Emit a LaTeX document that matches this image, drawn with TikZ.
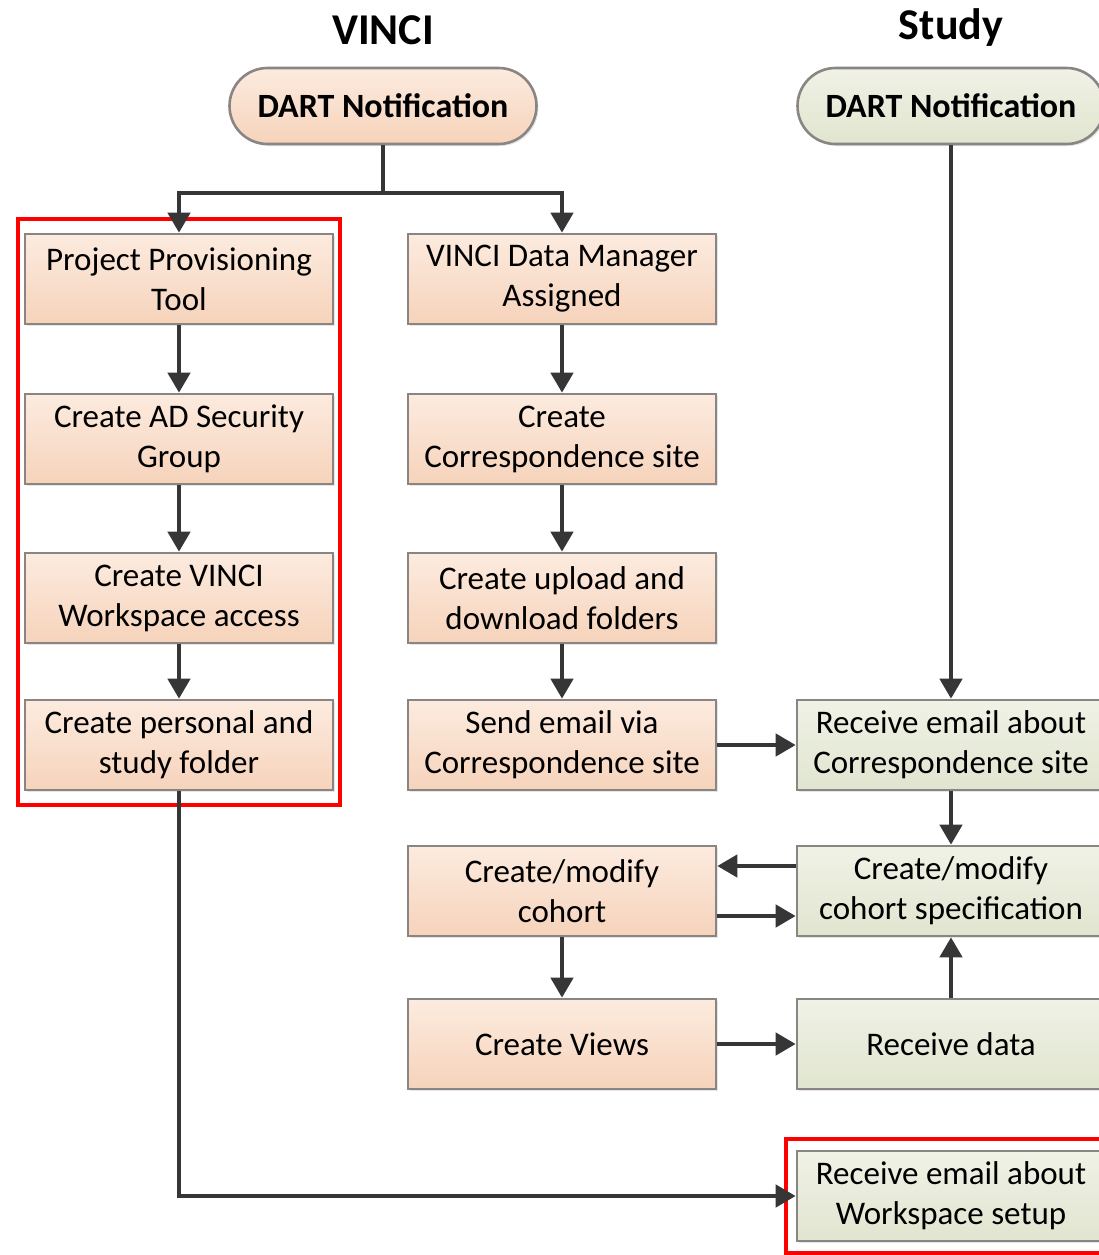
\documentclass[tikz,border=0pt]{standalone}
\usepackage{fontspec}
\setmainfont{Carlito}
\usetikzlibrary{arrows.meta,fit,shadows}

\definecolor{peachtop}{HTML}{FCEBDF}
\definecolor{peachbot}{HTML}{F6D3BB}
\definecolor{greentop}{HTML}{F0F2E6}
\definecolor{greenbot}{HTML}{E0E5CF}
\definecolor{boxline}{HTML}{8A8582}
\definecolor{arrowgray}{HTML}{363636}

\tikzset{
  stepbox/.style={rectangle, draw=boxline, line width=1.3pt, minimum width=154pt,
    minimum height=45pt, align=center, inner sep=2pt,
    font=\fontsize{16.5}{20}\selectfont,
    drop shadow={opacity=0.2, shadow xshift=1pt, shadow yshift=-1pt}},
  vincibox/.style={stepbox, top color=peachtop, bottom color=peachbot},
  studybox/.style={stepbox, top color=greentop, bottom color=greenbot},
  notifbox/.style={rectangle, rounded corners=19pt, draw=boxline, line width=1.3pt,
    minimum width=153.5pt, minimum height=38pt, font=\bfseries\fontsize{17}{20}\selectfont,
    drop shadow={opacity=0.2, shadow xshift=1pt, shadow yshift=-1pt}},
  arr/.style={draw=arrowgray, line width=2.2pt, -{Triangle[length=10pt,width=11pt]}},
  redbox/.style={draw=red, line width=2pt, inner xsep=3pt, inner ysep=7pt}
}

\begin{document}
\begin{tikzpicture}[x=0.5pt, y=-0.5pt]
  \useasboundingbox (0,0) rectangle (1099,1255);

  % column titles
  \node[font=\bfseries\fontsize{22}{24}\selectfont] (VT) at (383, 30) {VINCI};
  \node[font=\bfseries\fontsize{22}{24}\selectfont] (ST) at (951, 28) {Study};

  \node[notifbox, top color=peachtop, bottom color=peachbot] (VD) at (383, 106) {DART Notification};
  \node[notifbox, top color=greentop, bottom color=greenbot] (SD) at (951, 106) {DART Notification};

  % VINCI, left column
  \node[vincibox] (L1) at (179, 279) {Project Provisioning\\Tool};
  \node[vincibox] (L2) at (179, 439) {Create AD Security\\Group};
  \node[vincibox] (L3) at (179, 598) {Create VINCI\\Workspace access};
  \node[vincibox] (L4) at (179, 745) {Create personal and\\study folder};

  % VINCI, middle column
  \node[vincibox] (M1) at (562, 279) {VINCI Data Manager\\Assigned};
  \node[vincibox] (M2) at (562, 439) {Create\\Correspondence site};
  \node[vincibox] (M3) at (562, 598) {Create upload and\\download folders};
  \node[vincibox] (M4) at (562, 745) {Send email via\\Correspondence site};
  \node[vincibox] (M5) at (562, 891) {Create/modify\\cohort};
  \node[vincibox] (M6) at (562, 1044) {Create Views};

  % Study column
  \node[studybox] (S1) at (951, 745) {Receive email about\\Correspondence site};
  \node[studybox] (S2) at (951, 891) {Create/modify\\cohort specification};
  \node[studybox] (S3) at (951, 1044) {Receive data};
  \node[studybox] (S4) at (951, 1196) {Receive email about\\Workspace setup};

  \node[redbox, fit=(L1)(L4)] (R1) {};
  \node[redbox, inner xsep=5pt, inner ysep=5.5pt, fit=(S4)] (R2) {};

  % connectors
  \coordinate (J) at (383, 193);
  \draw[arr, -] (VD) -- (J);
  \draw[arr] (J) -| (L1);
  \draw[arr] (J) -| (M1);
  \draw[arr] (SD) -- (S1);

  \draw[arr] (L1) -- (L2);
  \draw[arr] (L2) -- (L3);
  \draw[arr] (L3) -- (L4);
  \draw[arr] (L4) |- (S4);

  \draw[arr] (M1) -- (M2);
  \draw[arr] (M2) -- (M3);
  \draw[arr] (M3) -- (M4);
  \draw[arr] (M4) -- (S1);
  \draw[arr] (S1) -- (S2);
  \draw[arr] ([yshift=12.5pt]S2.west) -- ([yshift=12.5pt]M5.east);
  \draw[arr] ([yshift=-12.5pt]M5.east) -- ([yshift=-12.5pt]S2.west);
  \draw[arr] (M5) -- (M6);
  \draw[arr] (M6) -- (S3);
  \draw[arr] (S3) -- (S2);
\end{tikzpicture}
\end{document}
